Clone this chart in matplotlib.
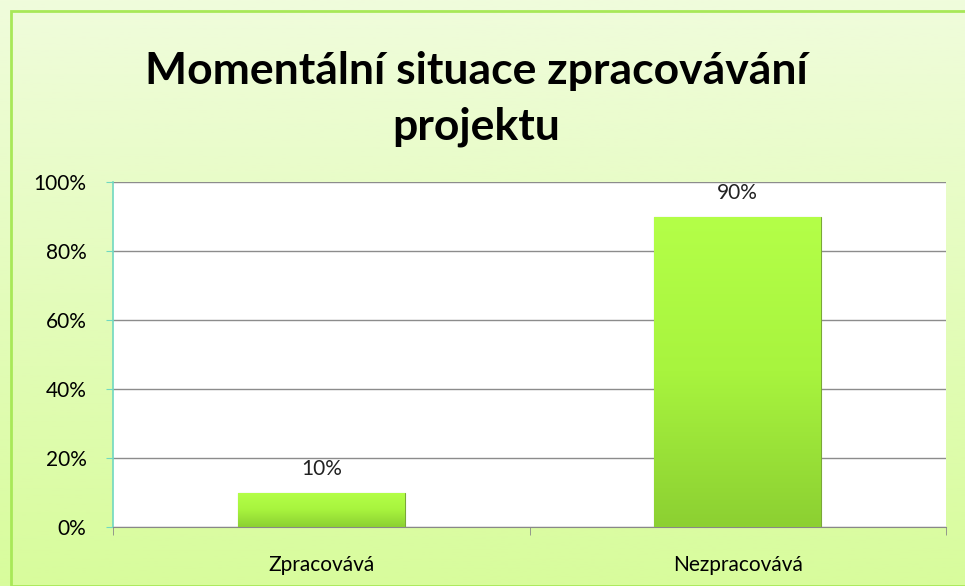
import numpy as np
import matplotlib.pyplot as plt
from matplotlib.colors import LinearSegmentedColormap
from matplotlib.patches import Rectangle

categories = ["Zpracovává", "Nezpracovává"]
values = [10, 90]
value_labels = ["10%", "90%"]
yticks = [0, 20, 40, 60, 80, 100]
ytick_labels = ["0%", "20%", "40%", "60%", "80%", "100%"]
title = "Momentální situace zpracovávání\nprojektu"

plt.rcParams['font.family'] = ['Lato', 'DejaVu Sans']

fig = plt.figure(figsize=(9.65, 5.86), dpi=100)

# background gradient of the whole chart area
bg = fig.add_axes([0, 0, 1, 1])
bg.set_axis_off()
bg_cmap = LinearSegmentedColormap.from_list("bg", ["#d8fc9c", "#f0fcdc"])
bg.imshow(np.linspace(0, 1, 256).reshape(-1, 1), aspect='auto', cmap=bg_cmap,
          extent=[0, 1, 0, 1], origin='lower')
bg.add_patch(Rectangle((11 / 965, 0), 1, 1 - 11 / 586, fill=False,
                       edgecolor="#a8e858", linewidth=2))
bg.set_xlim(0, 1)
bg.set_ylim(0, 1)

ax = fig.add_axes([113 / 965, 1 - 527 / 586, 833 / 965, 345 / 586])
ax.set_facecolor("white")
x = np.arange(len(categories))
bars = ax.bar(x, values, width=0.4, color="#9ee03c", edgecolor="#7aa838",
              linewidth=0.8, zorder=3)

# vertical gradient on each bar
bar_cmap = LinearSegmentedColormap.from_list("bar", ["#8cd032", "#a8f43e", "#b4ff48"])
for b in bars:
    x0, y0 = b.get_x(), b.get_y()
    w, h = b.get_width(), b.get_height()
    im = ax.imshow(np.linspace(0, 1, 256).reshape(-1, 1), aspect='auto', cmap=bar_cmap,
                   extent=[x0, x0 + w, y0, y0 + h], origin='lower', zorder=3)
    im.set_clip_path(b)

for xi, v, lab in zip(x, values, value_labels):
    ax.text(xi, v + 4, lab, ha='center', va='bottom', fontsize=15, color="#222222")

ax.set_xlim(-0.5, 1.5)
ax.set_ylim(0, 100)
ax.set_yticks(yticks)
ax.set_yticklabels(ytick_labels, fontsize=15)
ax.set_xticks(x)
ax.set_xticklabels(categories, fontsize=15)
ax.tick_params(axis='x', length=0, pad=20)
ax.set_xticks([-0.5, 0.5, 1.5], minor=True)
ax.tick_params(axis='x', which='minor', length=6, color="#888888")
ax.tick_params(axis='y', length=5, color="#70d8c0", pad=14)
ax.grid(axis='y', color="#8c8c8c", linewidth=1, zorder=0)
ax.set_axisbelow(True)
for s in ['top', 'right']:
    ax.spines[s].set_visible(False)
ax.spines['left'].set_color("#70d8c0")
ax.spines['left'].set_linewidth(1.2)
ax.spines['bottom'].set_color("#888888")

fig.text(476 / 965, 1 - 99 / 586, title, ha='center', va='center',
         fontsize=32, fontweight='bold', linespacing=1.45)

plt.savefig("out.png", dpi=100)
